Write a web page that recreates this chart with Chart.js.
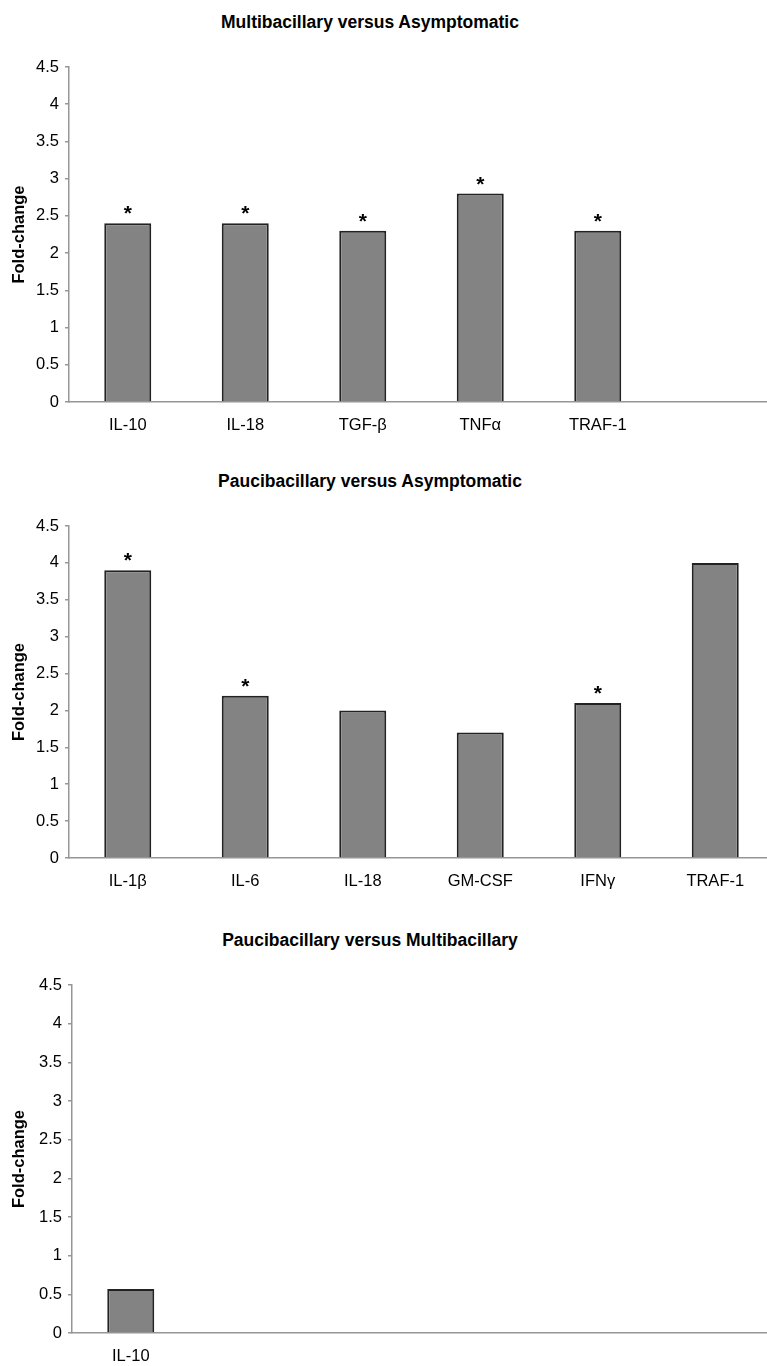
<!DOCTYPE html>
<html>
<head>
<meta charset="utf-8">
<script src="https://cdn.jsdelivr.net/npm/chart.js@4"></script>
<style>
  html, body { margin: 0; padding: 0; background: #fff; }
  body { width: 767px; height: 1366px; overflow: hidden; position: relative; }
  canvas { position: absolute; left: 0; }
  .ttl {
    position: absolute; left: 0; width: 740px; text-align: center;
    font: bold 17.5px "Liberation Sans", Arial, sans-serif; color: #000;
    line-height: 20px;
  }
</style>
</head>
<body>
<div class="ttl" style="top:12px">Multibacillary versus Asymptomatic</div>
<canvas id="c1" width="774" height="450" style="top:0px"></canvas>
<div class="ttl" style="top:471px">Paucibacillary versus Asymptomatic</div>
<canvas id="c2" width="774" height="460" style="top:450px"></canvas>
<div class="ttl" style="top:930px">Paucibacillary versus Multibacillary</div>
<canvas id="c3" width="777" height="456" style="top:910px"></canvas>
<script>
// panel 1: Multibacillary versus Asymptomatic
const mbLabels = ["IL-10", "IL-18", "TGF-β", "TNFα", "TRAF-1", ""];
const mbValues = [2.4, 2.4, 2.3, 2.8, 2.3, null];
const mbStars = [true, true, true, true, true, false];

// panel 2: Paucibacillary versus Asymptomatic
const pbLabels = ["IL-1β", "IL-6", "IL-18", "GM-CSF", "IFNγ", "TRAF-1"];
const pbValues = [3.9, 2.2, 2.0, 1.7, 2.1, 4.0];
const pbStars = [true, true, false, false, true, false];

// panel 3: Paucibacillary versus Multibacillary
const pmLabels = ["IL-10", "", "", "", "", ""];
const pmValues = [0.57, null, null, null, null, null];
const pmStars = [false, false, false, false, false, false];

const yTicks = ["0", "0.5", "1", "1.5", "2", "2.5", "3", "3.5", "4", "4.5"];

const FONT = "'Liberation Sans', Arial, sans-serif";
const AXIS = "#969696";

const starPlugin = {
  id: "stars",
  afterDatasetsDraw(chart, args, opts) {
    const { ctx } = chart;
    const meta = chart.getDatasetMeta(0);
    ctx.save();
    ctx.fillStyle = "#000";
    ctx.font = "bold 21px " + FONT;
    ctx.textAlign = "center";
    ctx.textBaseline = "alphabetic";
    meta.data.forEach((bar, i) => {
      if (opts.flags[i]) ctx.fillText("*", bar.x, bar.y - 3);
    });
    ctx.restore();
  },
};

function makeChart(id, labels, values, stars, padTop, xHeight, yWidth) {
  return new Chart(document.getElementById(id), {
    type: "bar",
    data: {
      labels: labels,
      datasets: [{
        data: values,
        backgroundColor: "#838383",
        borderColor: "#222",
        borderWidth: 2,
        borderSkipped: "bottom",
        categoryPercentage: 1,
        barPercentage: 0.4,
      }],
    },
    options: {
      responsive: false,
      animation: false,
      devicePixelRatio: 1,
      layout: { padding: { top: padTop, left: 0, right: 0, bottom: 0 } },
      plugins: {
        legend: { display: false },
        tooltip: { enabled: false },
        stars: { flags: stars },
      },
      scales: {
        x: {
          grid: { display: false, drawTicks: false },
          border: { display: true, color: AXIS, width: 1.5 },
          ticks: { color: "#000", font: { family: FONT, size: 16.5 }, padding: 14, maxRotation: 0, autoSkip: false },
          afterFit: (s) => { s.height = xHeight; },
        },
        y: {
          min: 0,
          max: 4.5,
          ticks: {
            stepSize: 0.5,
            color: "#000",
            font: { family: FONT, size: 16.5 },
            padding: 6,
            callback: (v, i) => yTicks[i],
          },
          grid: { display: true, drawOnChartArea: false, drawTicks: true, tickLength: 4, color: AXIS, lineWidth: 1.5 },
          border: { display: true, color: AXIS, width: 1.5 },
          title: {
            display: true,
            text: "Fold-change",
            color: "#000",
            font: { family: FONT, size: 16.5, weight: "bold" },
            padding: { top: 10, bottom: 0 },
          },
          afterFit: (s) => { s.width = yWidth; },
        },
      },
    },
    plugins: [starPlugin],
  });
}

makeChart("c1", mbLabels, mbValues, mbStars, 67, 48, 69);
makeChart("c2", pbLabels, pbValues, pbStars, 76, 52, 69);
makeChart("c3", pmLabels, pmValues, pmStars, 75, 33, 72);
</script>
</body>
</html>
